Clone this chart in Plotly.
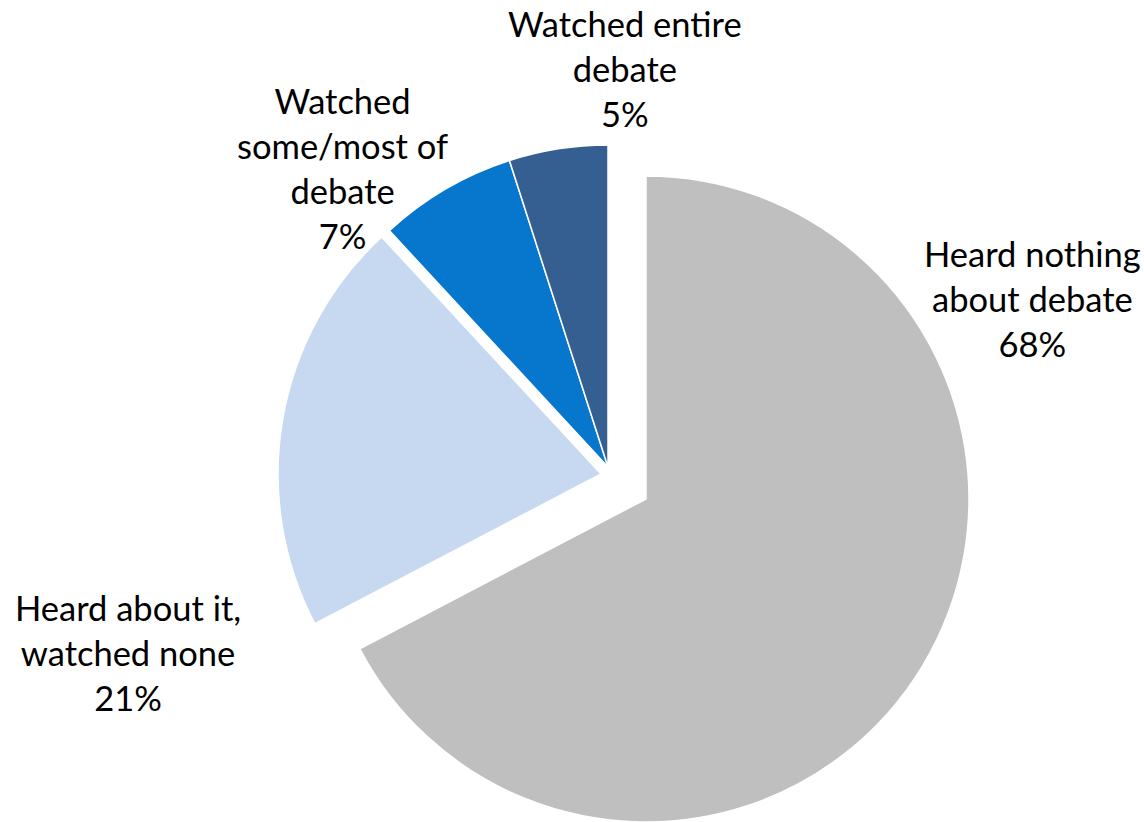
import plotly.graph_objects as go

# ---- data ----
categories = ["Heard nothing about debate", "Heard about it, watched none",
              "Watched some/most of debate", "Watched entire debate"]
label_text = ["Heard nothing<br>about debate", "Heard about it,<br>watched none",
              "Watched<br>some/most of<br>debate", "Watched entire<br>debate"]
values = [68, 21, 7, 5]

# ---- styles ----
colors = ["#BFBFBF", "#C6D9F0", "#0777CE", "#365F91"]
W, H = 1144, 822
FONT = "Lato"
FSIZE = 34.5

# slice groups drawn as separate (exploded) pieces: (slice indices, centre px, radius px)
groups = [
    ([1], (601, 474), 323),
    ([2, 3], (608, 467), 322),
    ([0], (646, 499), 323),
]

fig = go.Figure()
for idx, (cx, cy), r in groups:
    cols = [colors[i] if i in idx else "rgba(0,0,0,0)" for i in range(len(values))]
    lw = [1.5 if i in idx else 0 for i in range(len(values))]
    fig.add_trace(go.Pie(
        labels=categories, values=values, sort=False, direction="clockwise",
        rotation=0, textinfo="none", showlegend=False,
        marker=dict(colors=cols, line=dict(color="white", width=lw)),
        domain=dict(x=[(cx - r) / W, (cx + r) / W],
                    y=[1 - (cy + r) / H, 1 - (cy - r) / H]),
        hoverinfo="label+percent",
    ))

# label positions (px, centre of text block)
label_pos = [(1032, 299), (128, 652), (342, 168), (625, 68)]
for txt, v, (lx, ly) in zip(label_text, values, label_pos):
    fig.add_annotation(
        x=lx / W, y=1 - ly / H, xref="paper", yref="paper",
        text=f"{txt}<br>{v}%", showarrow=False, align="center",
        xanchor="center", yanchor="middle",
        font=dict(family=FONT, size=FSIZE, color="#000000"),
    )

fig.update_layout(
    width=W, height=H, margin=dict(l=0, r=0, t=0, b=0),
    paper_bgcolor="white", plot_bgcolor="white",
)
fig.write_html(
    "out.html",
    config={"displayModeBar": False},
    post_script="document.body.style.margin='0px';document.body.style.overflow='hidden';",
)
